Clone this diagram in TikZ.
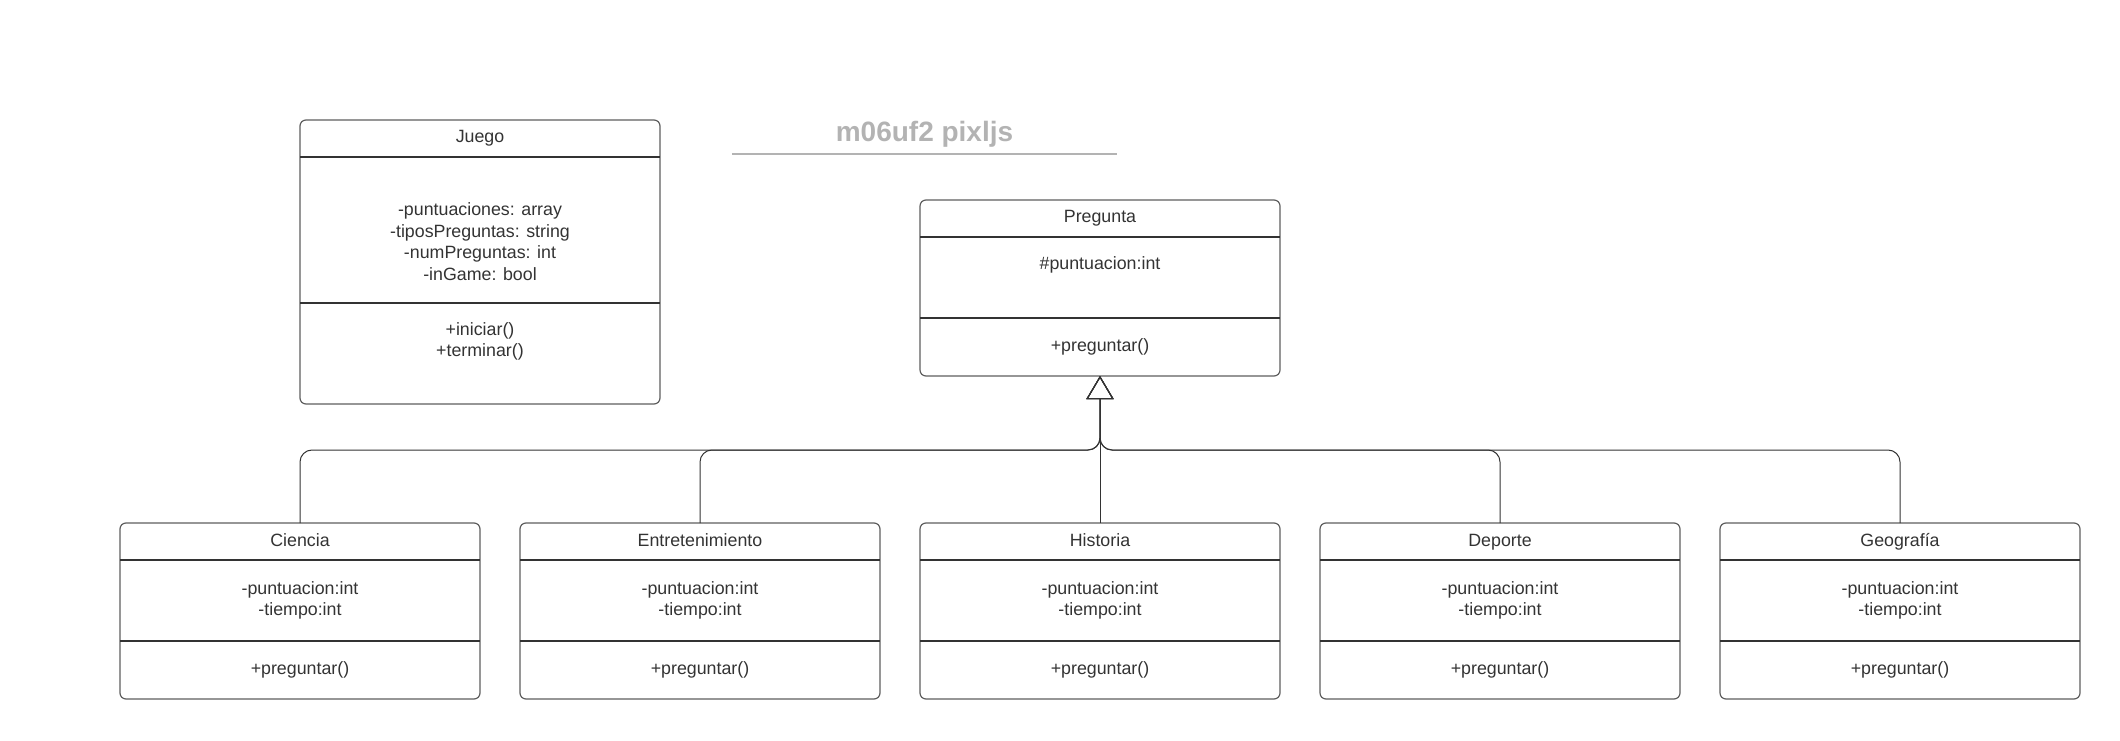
\documentclass[tikz,border=0pt]{standalone}
\usepackage{fontspec}
\setmainfont{Liberation Sans}
\usepackage{tikz}
\usetikzlibrary{positioning}
\usetikzlibrary{arrows.meta}
\usepackage{xcolor}
\definecolor{boxgray}{HTML}{5E5E5E}
\definecolor{sepgray}{HTML}{333333}
\definecolor{txtgray}{HTML}{333333}
\definecolor{titlegray}{HTML}{B3B3B3}

\begin{document}
\begin{tikzpicture}[x=1pt, y=1pt,
sectnode/.style={rectangle, minimum width=360pt, inner sep=0pt, outer sep=0pt, text=txtgray, font=\fontsize{17.8}{21.5}\selectfont},
classname/.style={sectnode, minimum height=37pt, text height=13pt, text depth=4pt},
attrnode/.style={sectnode, minimum height=81pt, align=center},
methodnode/.style={sectnode, minimum height=58pt, align=center},
classbox/.style={draw=boxgray, line width=1.2pt, rounded corners=6pt},
sepline/.style={draw=sepgray, line width=1.2pt},
herencia/.style={draw=sepgray, line width=1pt, rounded corners=12pt, -{Triangle[open, length=23pt, width=27pt]}},
titletext/.style={minimum width=385pt, minimum height=40pt, inner sep=0pt, text=titlegray, font=\fontsize{28}{34}\selectfont\bfseries},
titleline/.style={draw=titlegray, line width=2pt}]
\useasboundingbox (0,0) rectangle (2120,740);

% title
\node[titletext] (titulo) at (924.5,606) {m06uf2 pixljs};
\draw[titleline] (titulo.south west) -- (titulo.south east);

% Juego
\node[classname] (juego) at (480,601.5) {Juego};
\node[attrnode, minimum height=146pt] (juego-a) [below=0pt of juego] {\strut\\ -puntuaciones: array\\ -tiposPreguntas: string\\ -numPreguntas: int\\ -inGame: bool};
\node[methodnode, minimum height=101pt] (juego-m) [below=0pt of juego-a] {+iniciar()\\ +terminar()\\ \strut};
\draw[classbox] (juego.north west) rectangle (juego-m.south east);
\draw[sepline] (juego.south west) -- (juego.south east);
\draw[sepline] (juego-a.south west) -- (juego-a.south east);

% Pregunta
\node[classname] (pregunta) at (1100,521.5) {Pregunta};
\node[attrnode] (pregunta-a) [below=0pt of pregunta] {\#puntuacion:int\\ \strut};
\node[methodnode] (pregunta-m) [below=0pt of pregunta-a] {+preguntar()};
\draw[classbox] (pregunta.north west) rectangle (pregunta-m.south east);
\draw[sepline] (pregunta.south west) -- (pregunta.south east);
\draw[sepline] (pregunta-a.south west) -- (pregunta-a.south east);

% subclasses
\node[classname] (ciencia) at (300,198.5) {Ciencia};
\node[attrnode] (ciencia-a) [below=0pt of ciencia] {-puntuacion:int\\ -tiempo:int};
\node[methodnode] (ciencia-m) [below=0pt of ciencia-a] {+preguntar()};
\draw[classbox] (ciencia.north west) rectangle (ciencia-m.south east);
\draw[sepline] (ciencia.south west) -- (ciencia.south east);
\draw[sepline] (ciencia-a.south west) -- (ciencia-a.south east);

\node[classname] (entre) [right=40pt of ciencia] {Entretenimiento};
\node[attrnode] (entre-a) [below=0pt of entre] {-puntuacion:int\\ -tiempo:int};
\node[methodnode] (entre-m) [below=0pt of entre-a] {+preguntar()};
\draw[classbox] (entre.north west) rectangle (entre-m.south east);
\draw[sepline] (entre.south west) -- (entre.south east);
\draw[sepline] (entre-a.south west) -- (entre-a.south east);

\node[classname] (historia) [right=40pt of entre] {Historia};
\node[attrnode] (historia-a) [below=0pt of historia] {-puntuacion:int\\ -tiempo:int};
\node[methodnode] (historia-m) [below=0pt of historia-a] {+preguntar()};
\draw[classbox] (historia.north west) rectangle (historia-m.south east);
\draw[sepline] (historia.south west) -- (historia.south east);
\draw[sepline] (historia-a.south west) -- (historia-a.south east);

\node[classname] (deporte) [right=40pt of historia] {Deporte};
\node[attrnode] (deporte-a) [below=0pt of deporte] {-puntuacion:int\\ -tiempo:int};
\node[methodnode] (deporte-m) [below=0pt of deporte-a] {+preguntar()};
\draw[classbox] (deporte.north west) rectangle (deporte-m.south east);
\draw[sepline] (deporte.south west) -- (deporte.south east);
\draw[sepline] (deporte-a.south west) -- (deporte-a.south east);

\node[classname] (geo) [right=40pt of deporte] {Geografía};
\node[attrnode] (geo-a) [below=0pt of geo] {-puntuacion:int\\ -tiempo:int};
\node[methodnode] (geo-m) [below=0pt of geo-a] {+preguntar()};
\draw[classbox] (geo.north west) rectangle (geo-m.south east);
\draw[sepline] (geo.south west) -- (geo.south east);
\draw[sepline] (geo-a.south west) -- (geo-a.south east);

% inheritance
\coordinate (bus) at (1100,290);
\draw[herencia] (ciencia.north) |- (bus) -- (pregunta-m.south);
\draw[herencia] (entre.north) |- (bus) -- (pregunta-m.south);
\draw[herencia] (historia.north) -- (pregunta-m.south);
\draw[herencia] (deporte.north) |- (bus) -- (pregunta-m.south);
\draw[herencia] (geo.north) |- (bus) -- (pregunta-m.south);
\end{tikzpicture}
\end{document}
